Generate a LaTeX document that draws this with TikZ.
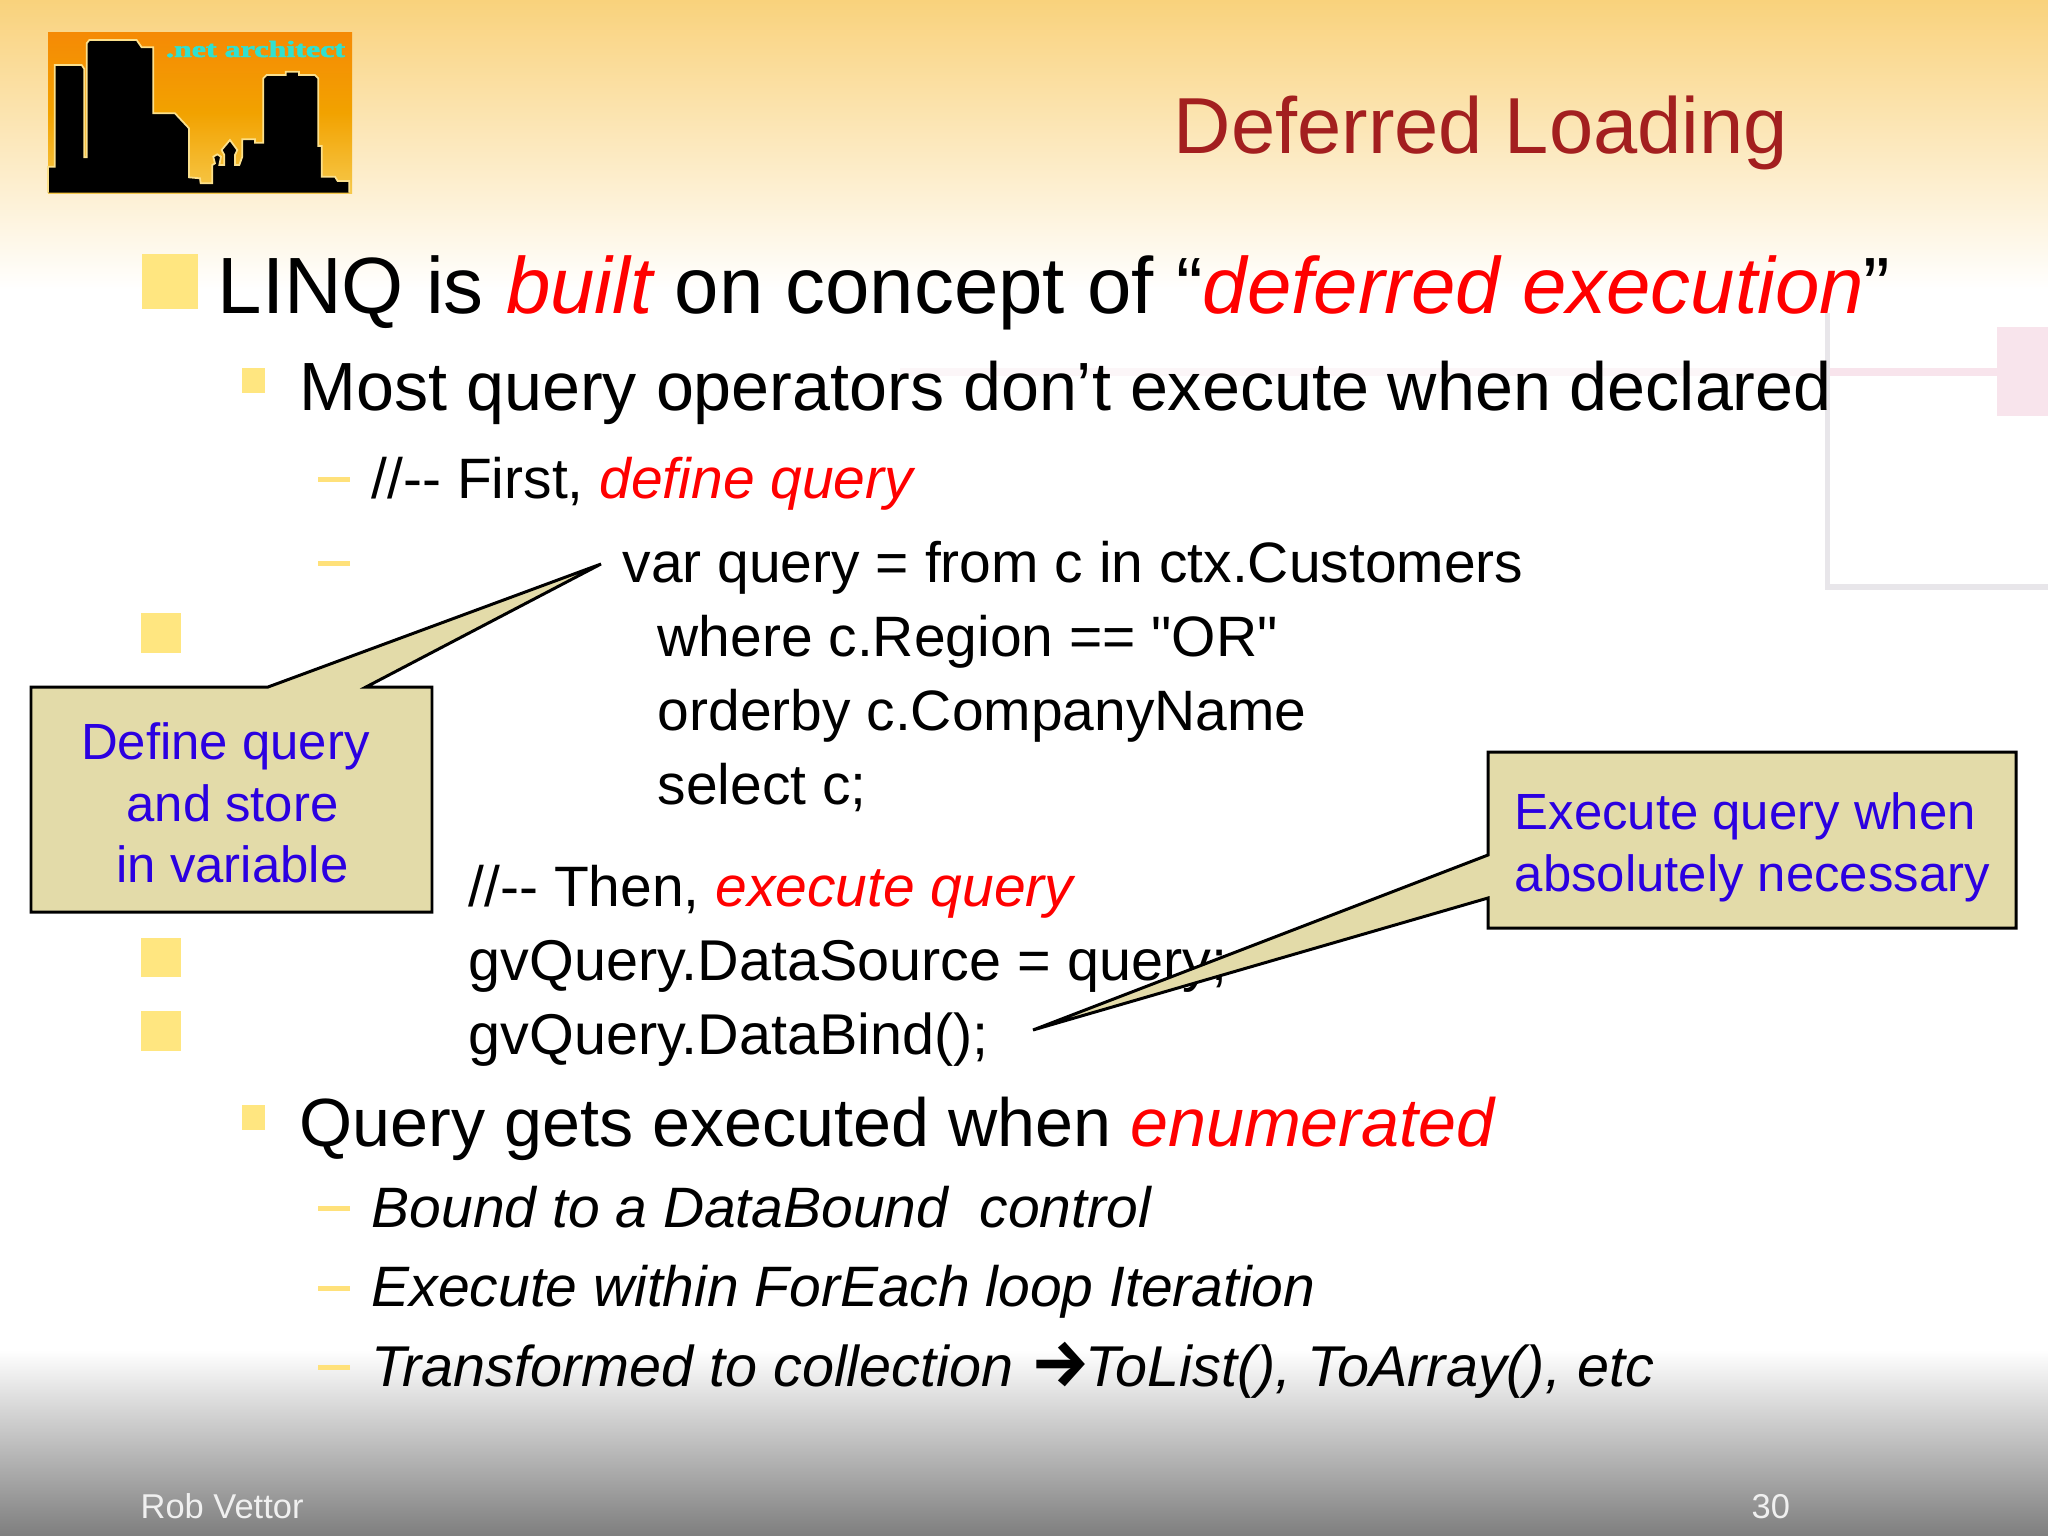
\documentclass[tikz,border=0pt]{standalone}
\usepackage{fontspec}
\setmainfont[Ligatures=TeXOff]{Liberation Sans}
\newfontfamily\logofont[FakeBold=2]{Liberation Serif}
\newfontfamily\arrowfont{Fira Sans}
\definecolor{topband}{HTML}{F9D27C}
\definecolor{bottomband}{HTML}{7E7E7E}
\definecolor{bulletyellow}{HTML}{FFE680}
\definecolor{titlered}{HTML}{A31F1F}
\definecolor{calloutfill}{HTML}{E3DBA9}
\definecolor{calloutblue}{HTML}{2B00E0}
\definecolor{palegray}{HTML}{E8E6EA}
\definecolor{palepink}{HTML}{F8E4EC}
\definecolor{logotop}{HTML}{F58A05}
\definecolor{logomid}{HTML}{F2A200}
\definecolor{logobottom}{HTML}{F6C84A}
\definecolor{logolight}{HTML}{FBE08C}
\definecolor{logotext}{HTML}{30E0D0}
\newcommand{\hot}[1]{\textcolor{red}{\itshape #1}}
\tikzset{
  line/.style={anchor=base west, inner sep=0pt, text=black},
  titleline/.style={line, text=titlered, font=\fontsize{22.6}{27}\selectfont},
  levelone/.style={line, font=\fontsize{22.7}{27}\selectfont},
  leveltwo/.style={line, font=\fontsize{19.4}{23}\selectfont},
  levelthree/.style={line, font=\fontsize{16.2}{19}\selectfont},
  codeline/.style={line, font=\fontsize{16.36}{19}\selectfont},
  footer/.style={line, text=white!94!black, font=\fontsize{9.8}{11}\selectfont},
  callouttext/.style={inner sep=0pt, text=calloutblue, font=\fontsize{14.47}{17.5}\selectfont},
  bigbullet/.style={fill=bulletyellow},
  dashbullet/.style={fill=bulletyellow!95!orange},
  callout/.style={draw=black, fill=calloutfill, line width=0.85pt, line join=miter}
}
\begin{document}
\begin{tikzpicture}[x=0.01cm,y=-0.01cm]
\useasboundingbox (0,0) rectangle (2048,1536);
% slide background
\fill[white] (0,0) rectangle (2048,1536);
\shade[top color=topband, bottom color=white, middle color=topband!50!white] (0,0) rectangle (2048,290);
\shade[top color=white, bottom color=bottomband] (0,1350) rectangle (2048,1536);
\fill[palepink!35!white] (900,368) rectangle (1825,376);
\fill[palepink] (1830,368) rectangle (2000,376);
\fill[palepink] (1997,327) rectangle (2048,416);
\fill[palegray] (1825,313) rectangle (1830,590);
\fill[palegray] (1825,584) rectangle (2048,590);
% logo
\shade[top color=logotop, bottom color=logobottom, middle color=logomid] (48,32) rectangle (352,193);
\begin{scope}[shift={(40,20)},scale=0.3333]
\draw[fill=black, draw=logolight, line width=0.5pt]
  (24,518) -- (24,440) -- (44,440) -- (44,135) -- (125,135) -- (133,147) -- (133,412)
  -- (140,412) -- (140,70) -- (148,60) -- (290,60) -- (305,82) -- (340,82) -- (340,280)
  -- (405,280) -- (447,325) -- (447,472) -- (480,475) -- (482,490) -- (517,490) -- (517,435)
  -- (525,430) -- (520,410) -- (532,403) -- (543,410) -- (538,435) -- (553,435) -- (553,405)
  -- (545,390) -- (570,360) -- (592,390) -- (585,405) -- (585,435) -- (598,435) -- (607,410)
  -- (607,358) -- (645,358) -- (645,368) -- (670,368) -- (670,175) -- (680,165) -- (737,165)
  -- (737,155) -- (777,155) -- (777,165) -- (825,165) -- (835,175) -- (835,378) -- (845,378)
  -- (845,470) -- (885,470) -- (893,483) -- (928,483) -- (928,518);
\end{scope}
\node[anchor=base west, inner sep=0pt, text=logotext, font=\logofont\bfseries\fontsize{6.6}{8}\selectfont, xscale=1.38, transform shape] (logolabel) at (165,57) {.net architect};
% title
\node[titleline] (title) at (1173,153) {Deferred Loading};
% bullets
\fill[bigbullet] (142,254) rectangle (198,309);
\fill[bigbullet] (141,613) rectangle (181,653);
\fill[bigbullet] (141,938) rectangle (181,977);
\fill[bigbullet] (141,1011) rectangle (181,1051);
\fill[bigbullet] (242,368) rectangle (265,393);
\fill[bigbullet] (242,1105) rectangle (265,1130);
\fill[dashbullet] (318,477) rectangle (350,482);
\fill[dashbullet] (318,561) rectangle (350,566);
\fill[dashbullet] (318,1206) rectangle (350,1211);
\fill[dashbullet] (318,1286) rectangle (350,1291);
\fill[dashbullet] (318,1365) rectangle (350,1370);
% slide text
\node[levelone] (linq) at (217,313) {LINQ is \hot{built} on concept of “\hot{deferred execution}”};
\node[leveltwo] (most) at (299,410) {Most query operators don’t execute when declared};
\node[levelthree] (first) at (371,498) {//-- First, \hot{define query}};
\node[levelthree] (varquery) at (622,582) {var query = from c in ctx.Customers};
\node[levelthree] (whereline) at (657,656) {where c.Region == "OR"};
\node[levelthree] (orderby) at (657,730) {orderby c.CompanyName};
\node[levelthree] (selectline) at (657,804) {select c;};
\node[levelthree] (then) at (468,906) {//-- Then, \hot{execute query}};
\node[codeline] (datasource) at (468,980) {gvQuery.DataSource = query;};
\node[codeline] (databind) at (468,1054) {gvQuery.DataBind();};
\node[leveltwo] (gets) at (299,1146) {Query gets executed when \hot{enumerated}};
\node[levelthree] (bound) at (371,1227) {\itshape Bound to a DataBound\ \ control};
\node[levelthree] (foreach) at (371,1306) {\itshape Execute within ForEach loop Iteration};
\node[codeline] (transformed) at (371,1386) {\itshape Transformed to collection\hspace{5pt}{\arrowfont\bfseries\upshape\fontsize{19}{19}\selectfont →}\hspace{-1.5pt}ToList(), ToArray(), etc};
% footer
\node[footer] (author) at (140,1518) {Rob Vettor};
\node[footer] (pagenum) at (1751,1518) {30};
% callouts
\draw[callout] (31,687) -- (268,687) -- (601,564) -- (366,687) -- (432,687) -- (432,912) -- (31,912) -- cycle;
\node[callouttext, align=center, anchor=north] (definetext) at (232.5,722) {Define query~~\\and store\\in variable};
\draw[callout] (1488,752) -- (2016,752) -- (2016,928) -- (1488,928) -- (1488,898) -- (1033,1030) -- (1488,855) -- cycle;
\node[callouttext, align=left, anchor=north west] (executetext) at (1514,792) {Execute query when\\absolutely necessary};
\end{tikzpicture}
\end{document}
